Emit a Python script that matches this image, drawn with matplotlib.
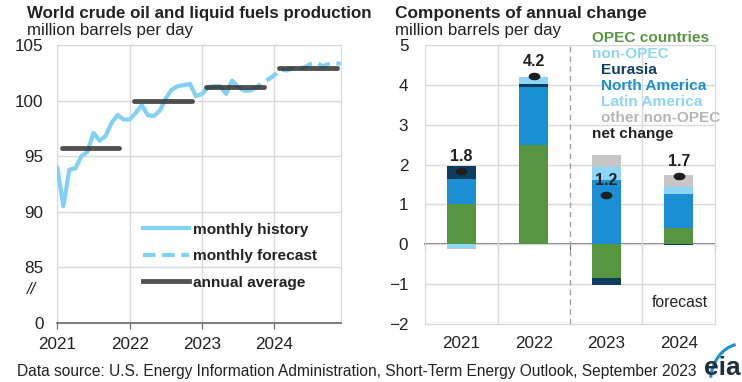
import numpy as np
import matplotlib
matplotlib.use('Agg')
import matplotlib.pyplot as plt
from matplotlib.lines import Line2D
from matplotlib.path import Path
from matplotlib.patches import Arc

plt.rcParams['font.family'] = ['Liberation Sans', 'DejaVu Sans']

# left panel: monthly world production, Jan 2021 - Dec 2024 (million b/d)
monthly_history = [94.0, 90.5, 93.8, 93.9, 95.0, 95.4, 97.1, 96.4, 96.8, 98.0, 98.7, 98.3,
                   98.3, 98.9, 99.6, 98.7, 98.6, 99.1, 100.2, 101.0, 101.3, 101.4, 101.5, 100.4,
                   100.6, 101.2, 101.3, 101.3, 100.6, 101.8, 101.2, 100.9, 100.9]
monthly_forecast = [100.9, 101.2, 101.6, 101.9, 102.3, 102.8, 102.7, 102.9, 102.9, 103.0,
                    103.3, 103.4, 103.1, 103.3, 103.4, 103.3]
years = ['2021', '2022', '2023', '2024']
annual_avg = [95.7, 99.95, 101.2, 102.9]

# right panel: components of annual change (million b/d)
opec = [1.0, 2.5, -0.86, 0.41]
eurasia = [0.32, 0.07, -0.16, -0.03]
north_america = [0.63, 1.45, 1.6, 0.85]
latin_america = [-0.1, 0.18, 0.33, 0.17]
other_non_opec = [-0.02, 0.0, 0.31, 0.31]
net_change = [1.83, 4.22, 1.23, 1.71]
net_labels = ['1.8', '4.2', '1.2', '1.7']

c_hist = '#80d1f5'
c_avg = '#333333'
c_opec = '#589541'
c_eur = '#0d3e5f'
c_na = '#1a8fd3'
c_la = '#8dd6f7'
c_oth = '#c6c6c6'
c_grid = '#d9d9d9'
c_txt = '#222222'

fig = plt.figure(figsize=(7.42, 3.82), dpi=100)

# ---------- left panel ----------
ax = fig.add_axes([0.0772, 0.1545, 0.382, 0.7277])
months = np.arange(len(monthly_history) + len(monthly_forecast) - 1)
x_hist = months[:len(monthly_history)]
x_fc = months[len(monthly_history) - 1:]
ax.plot(x_hist, monthly_history, color=c_hist, lw=3, solid_capstyle='round', zorder=3)
ax.plot(x_fc, monthly_forecast, color=c_hist, lw=3, ls=(0, (3, 1.6)), zorder=3)
for i, v in enumerate(annual_avg):
    ax.plot([12 * i + 0.7, 12 * i + 10.3], [v, v], color=c_avg, lw=3.5, alpha=0.85,
            solid_capstyle='round', zorder=4)

ax.set_xlim(0, 47)
ax.set_ylim(80, 105)
ax.set_yticks([80, 85, 90, 95, 100, 105])
ax.set_yticklabels(['0', '85', '90', '95', '100', '105'])
ax.set_xticks([0, 12, 24, 36])
ax.set_xticklabels(years)
ax.grid(True, color=c_grid, lw=1)
ax.set_axisbelow(True)
for s in ['left', 'right', 'top']:
    ax.spines[s].set_color(c_grid)
ax.spines['bottom'].set_color('#666666')
ax.spines['bottom'].set_linewidth(1.2)
ax.tick_params(axis='y', length=0, pad=10, labelsize=12.3, labelcolor=c_txt)
ax.tick_params(axis='x', length=4, color='#666666', pad=6, labelsize=12.3, labelcolor=c_txt)
ax.text(-0.09, 83.0, '//', transform=ax.get_yaxis_transform(), ha='center', va='center',
        fontsize=12, style='italic', color=c_txt)

handles = [Line2D([], [], color=c_hist, lw=3),
           Line2D([], [], color=c_hist, lw=3, ls=(0, (3, 1.6))),
           Line2D([], [], color=c_avg, lw=3.5, alpha=0.85)]
leg = ax.legend(handles, ['monthly history', 'monthly forecast', 'annual average'],
                loc='upper left', bbox_to_anchor=(0.255, 0.41), frameon=False,
                handlelength=2.95, handletextpad=0.25, labelspacing=0.8,
                prop={'weight': 'bold', 'size': 11.1})
for t in leg.get_texts():
    t.set_color(c_txt)

fig.text(0.036, 0.965, 'World crude oil and liquid fuels production', fontsize=12.2,
         fontweight='bold', va='center', color=c_txt)
fig.text(0.036, 0.92, 'million barrels per day', fontsize=12.2, va='center', color=c_txt)

# ---------- right panel ----------
bx = fig.add_axes([0.5728, 0.152, 0.3908, 0.7304])
xpos = np.arange(len(years))
w = 0.4
components = [(opec, c_opec), (north_america, c_na), (eurasia, c_eur),
              (latin_america, c_la), (other_non_opec, c_oth)]
pos_base = np.zeros(len(years))
neg_base = np.zeros(len(years))
for vals, col in components:
    vals = np.array(vals)
    bottoms = np.where(vals >= 0, pos_base, neg_base)
    bx.bar(xpos, vals, width=w, bottom=bottoms, color=col, zorder=2)
    pos_base = pos_base + np.where(vals >= 0, vals, 0)
    neg_base = neg_base + np.where(vals < 0, vals, 0)

ell = Path.unit_circle()
ell = Path(ell.vertices * [1.7, 1.0], ell.codes)
bx.plot(xpos, net_change, ls='none', marker=ell, markersize=7.5, color='#1e1e1e', zorder=4)
for x, v, lab in zip(xpos, net_change, net_labels):
    bx.annotate(lab, (x, v), xytext=(0, 10.5), textcoords='offset points', ha='center',
                va='center', fontsize=11.5, fontweight='bold', color=c_txt, zorder=5)

bx.set_xlim(-0.5, 3.5)
bx.set_ylim(-2, 5)
bx.set_yticks(range(-2, 6))
bx.set_xticks(xpos)
bx.set_xticklabels(years)
bx.set_xticks([0.5, 2.5], minor=True)
bx.grid(True, axis='y', color=c_grid, lw=1)
bx.grid(True, axis='x', which='minor', color=c_grid, lw=1)
bx.set_axisbelow(True)
bx.axvline(1.5, color='#a0a0a0', lw=1, ls=(0, (4, 3)), zorder=1)
for s in ['left', 'right', 'top', 'bottom']:
    bx.spines[s].set_color(c_grid)
bx.tick_params(axis='y', length=0, pad=12, labelsize=12.3, labelcolor=c_txt)
bx.tick_params(axis='x', which='both', length=0, pad=9, labelsize=12.3, labelcolor=c_txt)

zero_axis = bx.secondary_xaxis(2 / 7)
zero_axis.set_xticks([-0.5, 0.5, 1.5, 2.5, 3.5])
zero_axis.tick_params(length=4, color='#666666', labelbottom=False)
zero_axis.spines['bottom'].set_color('#666666')
zero_axis.spines['bottom'].set_linewidth(1.2)

legend_items = [('OPEC countries', c_opec, 0.0), ('non-OPEC', c_la, 0.0),
                ('Eurasia', c_eur, 0.03), ('North America', c_na, 0.03),
                ('Latin America', c_la, 0.03), ('other non-OPEC', '#b5b5b5', 0.03),
                ('net change', c_txt, 0.0)]
for k, (lab, col, ind) in enumerate(legend_items):
    bx.text(0.576 + ind, 1.025 - k * 0.0575, lab, transform=bx.transAxes, color=col,
            fontsize=11.1, fontweight='bold', va='center', ha='left', clip_on=False)
bx.text(0.88, -1.45, 'forecast', ha='center', va='center', fontsize=11.3,
        color=c_txt, transform=bx.get_yaxis_transform())

fig.text(0.533, 0.965, 'Components of annual change', fontsize=12.4, fontweight='bold',
         va='center', color=c_txt)
fig.text(0.533, 0.92, 'million barrels per day', fontsize=12.2, va='center', color=c_txt)

# footer
fig.text(0.023, 0.027, 'Data source: U.S. Energy Information Administration, '
         'Short-Term Energy Outlook, September 2023', fontsize=11.2, va='center',
         color=c_txt)
fig.text(0.949, 0.036, 'eia', fontsize=19, fontweight='bold', va='center', ha='left',
         color='#1e3040')
fig.patches.append(Arc((1.0, 0.0), 0.085, 0.2, theta1=95, theta2=165,
                       transform=fig.transFigure, color='#1a8fd3', lw=2.2))

fig.savefig('out.png', dpi=100)
